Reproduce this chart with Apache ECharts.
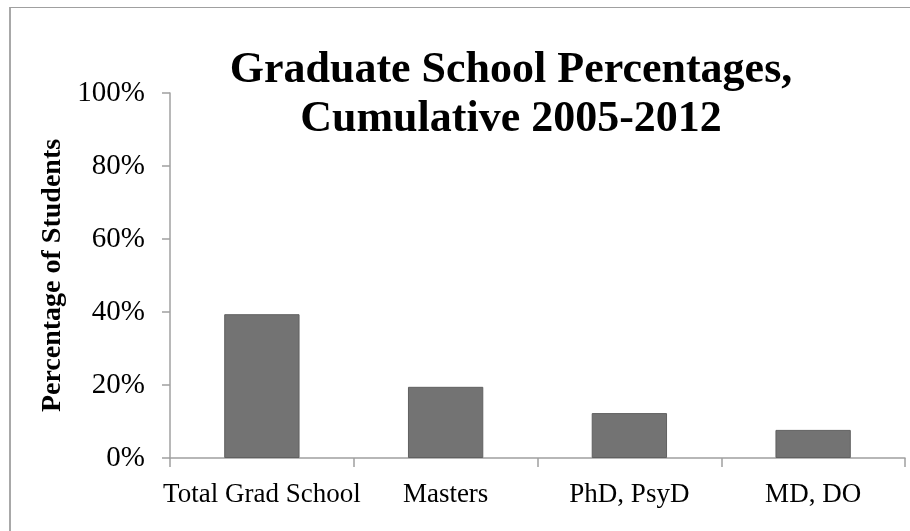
<!DOCTYPE html>
<html>
<head>
<meta charset="utf-8">
<script src="https://cdn.jsdelivr.net/npm/echarts@6/dist/echarts.min.js"></script>
<style>
  html, body { margin: 0; padding: 0; background: #fff; }
  #chart { width: 910px; height: 531px; }
</style>
</head>
<body>
<div id="chart"></div>
<script>
const categories = ['Total Grad School', 'Masters', 'PhD, PsyD', 'MD, DO'];
const percentages = [39.4, 19.5, 12.3, 7.7];
const yTicks = { min: 0, max: 100, interval: 20 };
const titleLines = ['Graduate School Percentages,', 'Cumulative 2005-2012'];
const yAxisTitle = 'Percentage of Students';

const chart = echarts.init(document.getElementById('chart'), null, { renderer: 'canvas' });
const serif = '"Liberation Serif", "Times New Roman", serif';
const axisGray = '#a0a0a0';

chart.setOption({
  backgroundColor: '#ffffff',
  animation: false,
  title: {
    text: titleLines.join('\n'),
    left: 506,
    top: 41,
    textAlign: 'center',
    textStyle: {
      fontFamily: serif,
      fontWeight: 'bold',
      fontSize: 44,
      lineHeight: 49,
      color: '#000'
    }
  },
  graphic: [
    { type: 'line', shape: { x1: 10, y1: 7, x2: 10, y2: 531 }, style: { stroke: '#a8a8a8', lineWidth: 2 } },
    { type: 'line', shape: { x1: 10, y1: 7.5, x2: 910, y2: 7.5 }, style: { stroke: '#a0a0a0', lineWidth: 1 } }
  ],
  grid: { left: 170, right: 5, top: 93, bottom: 73 },
  xAxis: {
    type: 'category',
    data: categories,
    boundaryGap: true,
    axisLine: { show: true, lineStyle: { color: axisGray, width: 1.5 } },
    axisTick: { show: true, length: 9, alignWithLabel: false, lineStyle: { color: axisGray, width: 1.5 } },
    axisLabel: { interval: 0, fontFamily: serif, fontSize: 27, color: '#000', margin: 23 }
  },
  yAxis: {
    type: 'value',
    min: yTicks.min,
    max: yTicks.max,
    interval: yTicks.interval,
    name: yAxisTitle,
    nameLocation: 'middle',
    nameGap: 94,
    nameTextStyle: { fontFamily: serif, fontWeight: 'bold', fontSize: 28, color: '#000' },
    axisLine: { show: true, lineStyle: { color: axisGray, width: 1.5 } },
    axisTick: { show: true, length: 8, lineStyle: { color: axisGray, width: 1.5 } },
    splitLine: { show: false },
    axisLabel: { fontFamily: serif, fontSize: 29, color: '#000', margin: 25, formatter: '{value}%' }
  },
  series: [{
    type: 'bar',
    data: percentages,
    barWidth: '41%',
    itemStyle: { color: '#737373', borderColor: '#606060', borderWidth: 1 }
  }]
});
</script>
</body>
</html>
